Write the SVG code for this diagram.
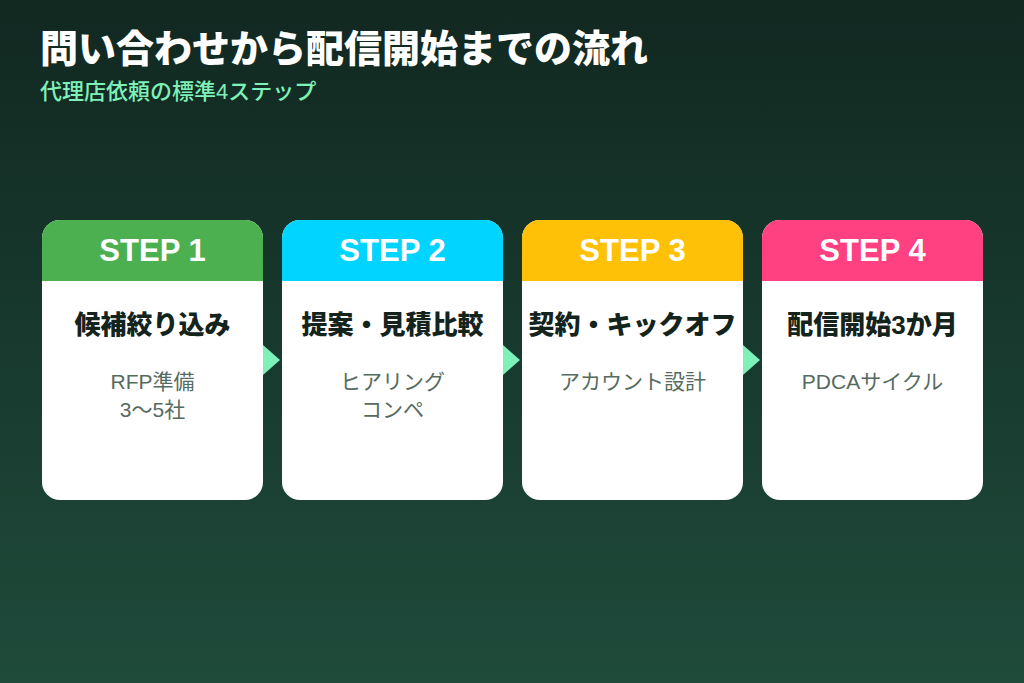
<svg xmlns="http://www.w3.org/2000/svg" width="1024" height="683" viewBox="0 0 1024 683">
<defs>
<linearGradient id="bg" x1="0" y1="0" x2="0" y2="1">
<stop offset="0" stop-color="#112821"/>
<stop offset="1" stop-color="#1f4b3b"/>
</linearGradient>
<clipPath id="c1"><rect x="42" y="220" width="221" height="280" rx="18"/></clipPath>
<clipPath id="c2"><rect x="282" y="220" width="221" height="280" rx="18"/></clipPath>
<clipPath id="c3"><rect x="522" y="220" width="221" height="280" rx="18"/></clipPath>
<clipPath id="c4"><rect x="762" y="220" width="221" height="280" rx="18"/></clipPath>
</defs>
<style>
text{font-family:"Liberation Sans","Noto Sans CJK JP",sans-serif}
.title{font-size:38px;font-weight:900;fill:#ffffff}
.sub{font-size:22px;font-weight:500;fill:#7ff0b8}
.step{font-size:31px;font-weight:700;fill:#ffffff;text-anchor:middle}
.ct{font-size:26px;font-weight:900;fill:#14231c;text-anchor:middle}
.cd{font-size:21px;font-weight:400;fill:#566b5f;text-anchor:middle}
.arr{fill:#7ff0b8}
</style>
<rect width="1024" height="683" fill="url(#bg)"/>
<text class="title" x="40" y="62">問い合わせから配信開始までの流れ</text>
<text class="sub" x="40" y="99">代理店依頼の標準4ステップ</text>
<g id="connectors">
<polygon class="arr" points="263,345 280,360 263,375"/>
<polygon class="arr" points="503,345 520,360 503,375"/>
<polygon class="arr" points="743,345 760,360 743,375"/>
</g>
<g id="step1" clip-path="url(#c1)">
<rect x="42" y="220" width="221" height="280" fill="#ffffff"/>
<rect x="42" y="220" width="221" height="61" fill="#4caf50"/>
<text class="step" x="152.5" y="261">STEP 1</text>
<text class="ct" x="152.5" y="334">候補絞り込み</text>
<text class="cd" x="152.5" y="389">RFP準備</text>
<text class="cd" x="152.5" y="417">3〜5社</text>
</g>
<g id="step2" clip-path="url(#c2)">
<rect x="282" y="220" width="221" height="280" fill="#ffffff"/>
<rect x="282" y="220" width="221" height="61" fill="#00d4ff"/>
<text class="step" x="392.5" y="261">STEP 2</text>
<text class="ct" x="392.5" y="334">提案・見積比較</text>
<text class="cd" x="392.5" y="389">ヒアリング</text>
<text class="cd" x="392.5" y="417">コンペ</text>
</g>
<g id="step3" clip-path="url(#c3)">
<rect x="522" y="220" width="221" height="280" fill="#ffffff"/>
<rect x="522" y="220" width="221" height="61" fill="#ffc107"/>
<text class="step" x="632.5" y="261">STEP 3</text>
<text class="ct" x="632.5" y="334">契約・キックオフ</text>
<text class="cd" x="632.5" y="389">アカウント設計</text>
</g>
<g id="step4" clip-path="url(#c4)">
<rect x="762" y="220" width="221" height="280" fill="#ffffff"/>
<rect x="762" y="220" width="221" height="61" fill="#ff4081"/>
<text class="step" x="872.5" y="261">STEP 4</text>
<text class="ct" x="872.5" y="334">配信開始3か月</text>
<text class="cd" x="872.5" y="389">PDCAサイクル</text>
</g>
</svg>
